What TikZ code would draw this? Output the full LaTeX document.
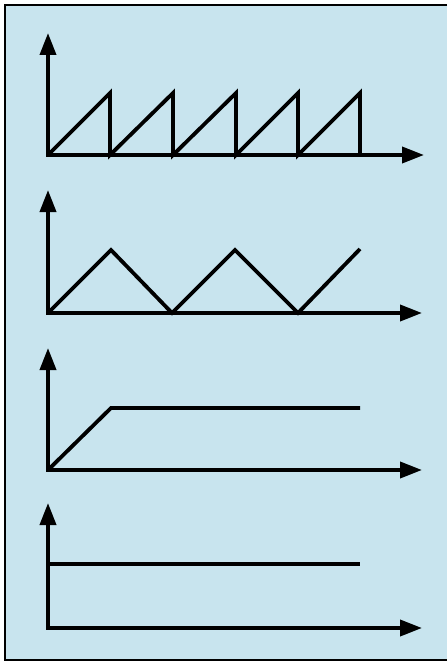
\documentclass[tikz,border=0pt]{standalone}
\usetikzlibrary{arrows.meta}
\definecolor{bgblue}{RGB}{200,228,238}
\begin{document}
\begin{tikzpicture}[x=1pt,y=-1pt,
  axis/.style={line width=3.8pt,-{Triangle[length=22pt,width=16pt]}},
  sig/.style={line width=3.8pt,line join=miter,line cap=butt}]
\useasboundingbox (0,0) rectangle (447,663);
\fill[white] (0,0) rectangle (447,663);
\fill[bgblue] (5,5) rectangle (447,660);
\draw[line width=1.8pt] (447,5) -- (5,5) -- (5,660) -- (447,660);
% plot 1 sawtooth
\coordinate (o1) at (48,155);
\draw[axis] (o1) -- (48,33);
\draw[axis] (46,155) -- (424,155);
\draw[sig] (o1) -- (110,93) -- (110,155) -- (173,93) -- (173,155) -- (236,93) -- (236,155) -- (298,93) -- (298,155) -- (360,93) -- (360,155);
% plot 2 triangle
\coordinate (o2) at (48,313);
\draw[axis] (o2) -- (48,190);
\draw[axis] (46,313) -- (422,313);
\draw[sig] (o2) -- (111,250) -- (172,313) -- (235,250) -- (298,313) -- (360,249);
% plot 3 ramp
\coordinate (o3) at (48,470);
\draw[axis] (o3) -- (48,348);
\draw[axis] (46,470) -- (422,470);
\draw[sig] (o3) -- (111,408) -- (360,408);
% plot 4 step
\coordinate (o4) at (48,628);
\draw[axis] (o4) -- (48,503);
\draw[axis] (46,628) -- (422,628);
\draw[sig] (48,564) -- (360,564);
\end{tikzpicture}
\end{document}
